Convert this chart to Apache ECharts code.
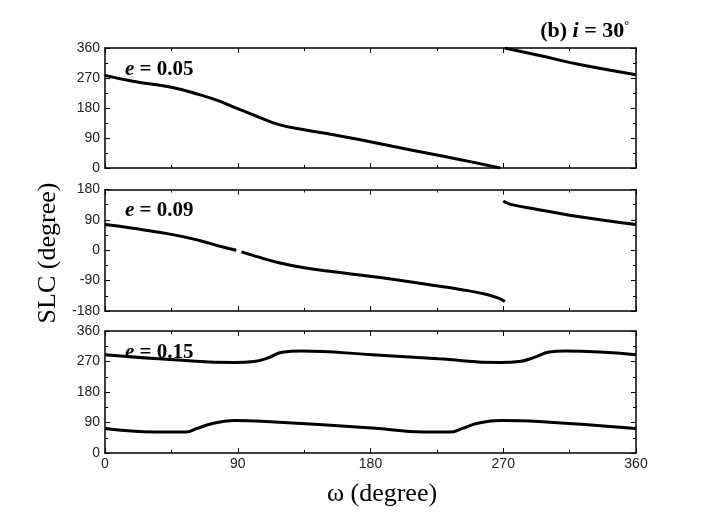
<!DOCTYPE html>
<html><head><meta charset="utf-8">
<script src="https://cdn.jsdelivr.net/npm/echarts@6/dist/echarts.min.js"></script>
<style>html,body{margin:0;padding:0;background:#fff}#c{width:707px;height:529px}</style>
</head><body><div id="c"></div>
<script>
// Panel e = 0.05
const p1aW = [0, 19, 45, 64, 78, 90, 103, 118, 135, 155, 178, 195, 218, 241, 268];
const p1aV = [278, 260, 242, 220, 200, 178, 155, 130, 115, 100, 80, 65, 45, 25, 0];
const p1bW = [271, 297, 320, 360];
const p1bV = [360, 335, 312, 280];
// Panel e = 0.09
const p2aW = [0, 19, 45, 64, 78, 89];
const p2aV = [76, 65, 47, 29, 12, 0];
const p2bW = [92.5, 103, 118, 135, 155, 178, 195, 218, 241, 259, 268, 271];
const p2bV = [-5, -19, -37, -52, -64, -76, -86, -101, -116, -131, -144, -152];
const p2cW = [270, 275, 293, 315, 360];
const p2cV = [146, 136, 121, 104, 76];
// Panel e = 0.15
const p3uW = [0, 47, 88, 101, 110, 120, 133, 181, 226, 268, 281, 291, 301, 312, 360];
const p3uV = [290, 275, 267, 270, 280, 297, 301, 290, 278, 267, 270, 282, 298, 301, 290];
const p3lW = [0, 34, 55, 62, 73, 88, 109, 181, 216, 234, 242, 252, 268, 294, 360];
const p3lV = [72, 62, 62, 72, 87, 96, 93, 74, 62, 62, 72, 87, 96, 93, 72];

const xTicks = [0, 90, 180, 270, 360];
const yTicks1 = [0, 90, 180, 270, 360];
const yTicks2 = [-180, -90, 0, 90, 180];

const panelLabels = ['0.05', '0.09', '0.15'];

const grids = [
  {left: 105, right: 71, top: 48, height: 120},
  {left: 105, right: 71, top: 189.5, height: 121.5},
  {left: 105, right: 71, top: 331, height: 122}
];
const ranges = [[0, 360], [-180, 180], [0, 360]];

const xAxes = [], yAxes = [];
const tickFont = {fontFamily: 'Liberation Sans, Arial, sans-serif', fontSize: 14, color: '#222'};
grids.forEach((g, i) => {
  const common = {gridIndex: i, min: 0, max: 360, interval: 90, type: 'value',
    axisLine: {show: true, onZero: false, lineStyle: {color: '#000', width: 1.5}},
    axisTick: {show: true, inside: true, length: 5, lineStyle: {color: '#000'}},
    minorTick: {show: true, splitNumber: 2, length: 3, lineStyle: {color: '#000'}},
    splitLine: {show: false}};
  xAxes.push(Object.assign({}, common, {position: 'bottom',
    axisLabel: {show: i === 2, margin: 4, ...tickFont}}));
  xAxes.push(Object.assign({}, common, {position: 'top', axisLabel: {show: false}}));
  const yc = {gridIndex: i, min: ranges[i][0], max: ranges[i][1], interval: 90, type: 'value',
    axisLine: {show: true, onZero: false, lineStyle: {color: '#000', width: 1.5}},
    axisTick: {show: true, inside: true, length: 5, lineStyle: {color: '#000'}},
    minorTick: {show: true, splitNumber: 2, length: 3, lineStyle: {color: '#000'}},
    splitLine: {show: false}};
  yAxes.push(Object.assign({}, yc, {position: 'left', axisLabel: {show: true, margin: 5, ...tickFont}}));
  yAxes.push(Object.assign({}, yc, {position: 'right', axisLabel: {show: false}}));
});

function zip(w, v) { return w.map((x, k) => [x, v[k]]); }
const lineStyle = {color: '#000', width: 3};
function ser(idx, w, v) {
  return {type: 'line', xAxisIndex: idx * 2, yAxisIndex: idx * 2, data: zip(w, v),
    showSymbol: false, smooth: 0.45, lineStyle: lineStyle, silent: true, animation: false};
}
const series = [
  ser(0, p1aW, p1aV), ser(0, p1bW, p1bV),
  ser(1, p2aW, p2aV), ser(1, p2bW, p2bV), ser(1, p2cW, p2cV),
  ser(2, p3uW, p3uV), ser(2, p3lW, p3lV)
];

const titles = panelLabels.map((t, i) => ({
  text: '{i|e} = ' + t, left: 120, top: grids[i].top + 6,
  textStyle: {fontFamily: 'Liberation Serif, Times New Roman, serif', fontSize: 21, fontWeight: 'bold', color: '#000',
    rich: {i: {fontStyle: 'italic', fontFamily: 'Liberation Serif, serif', fontSize: 21, fontWeight: 'bold', color: '#000'}}}
}));
titles.push({
  text: '(b) {i|i} = 30{s|°}', right: 73, top: 15,
  textStyle: {fontFamily: 'Liberation Serif, serif', fontSize: 22, fontWeight: 'bold', color: '#000',
    rich: {i: {fontStyle: 'italic', fontFamily: 'Liberation Serif, serif', fontSize: 22, fontWeight: 'bold', color: '#000'},
           s: {fontSize: 12, verticalAlign: 'top', fontFamily: 'Liberation Serif, serif', color: '#000', padding: [0, 0, 10, 0]}}}
});

const chart = echarts.init(document.getElementById('c'), null, {renderer: 'canvas'});
chart.setOption({
  animation: false,
  backgroundColor: '#fff',
  title: titles,
  grid: grids,
  xAxis: xAxes,
  yAxis: yAxes,
  series: series,
  graphic: [
    {type: 'text', x: 382, y: 494, style: {text: 'ω (degree)', font: '26px "Liberation Serif", serif', fill: '#000', align: 'center', verticalAlign: 'middle'}},
    {type: 'text', x: 48, y: 253, rotation: Math.PI / 2, style: {text: 'SLC (degree)', font: '26px "Liberation Serif", serif', fill: '#000', align: 'center', verticalAlign: 'middle'}}
  ]
});
</script></body></html>
